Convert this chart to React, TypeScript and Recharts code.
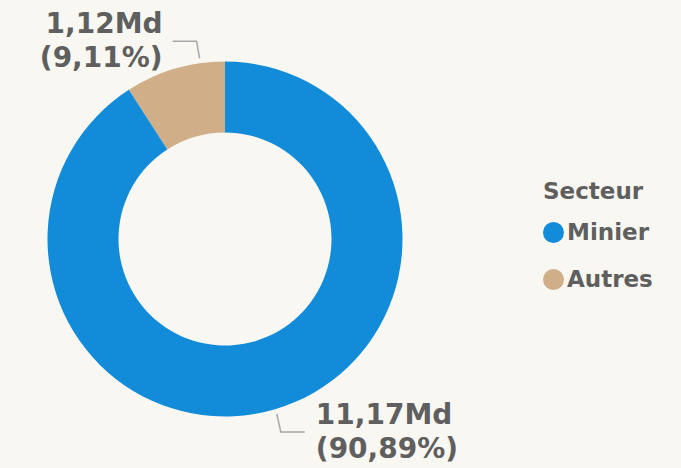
import { PieChart, Pie, Cell, Legend } from "recharts";

const BG = "#f8f7f2";
const TEXT = "#5f5f5f";
const LEADER = "#a8a8a8";
const FONT = "'DejaVu Sans', Verdana, sans-serif";

const sectors = ["Autres", "Minier"];
const values = [1.12, 11.17];
const colors = ["#d0ae88", "#128bd9"];
const legendOrder = [1, 0];

const data = sectors.map((name, i) => ({ name, value: values[i] }));
const total = values.reduce((a, b) => a + b, 0);

const fmt = (v: number) => v.toFixed(2).replace(".", ",");

// where each leader line leaves the ring (degrees, recharts convention)
const LEADER_ANGLE = [98, -73.5];

function SliceLabel(props: any) {
  const { cx, cy, outerRadius, index, value } = props;
  const a = (LEADER_ANGLE[index] * Math.PI) / 180;
  const r = outerRadius + 5;
  const x0 = cx + r * Math.cos(a);
  const y0 = cy - r * Math.sin(a);
  const top = index === 0;
  const lineY = top ? y0 - 17 : y0 + 18;
  const x1 = top ? x0 - 3 : x0 + 4;
  const x2 = top ? x1 - 24 : x1 + 24;
  const tx = top ? x2 - 10 : x2 + 11;
  const pct = ((value / total) * 100).toFixed(2).replace(".", ",");
  return (
    <g>
      <polyline
        points={`${x0},${y0} ${x1},${lineY} ${x2},${lineY}`}
        fill="none"
        stroke={LEADER}
        strokeWidth={1.5}
      />
      <text
        x={tx}
        y={lineY - 8}
        textAnchor={top ? "end" : "start"}
        fill={TEXT}
        style={{ fontFamily: FONT, fontSize: 28, fontWeight: 700 }}
      >
        <tspan x={tx}>{fmt(value)}Md</tspan>
        <tspan x={tx} dy={34}>({pct}%)</tspan>
      </text>
    </g>
  );
}

function LegendBox() {
  return (
    <div style={{ fontFamily: FONT, fontWeight: 700, color: TEXT, fontSize: 23, lineHeight: "23px" }}>
      <div style={{ marginBottom: 18 }}>Secteur</div>
      {legendOrder.map((i) => (
        <div key={i} style={{ display: "flex", alignItems: "center", marginBottom: 24 }}>
          <span
            style={{
              width: 21,
              height: 21,
              borderRadius: "50%",
              background: colors[i],
              display: "inline-block",
              marginRight: 3,
            }}
          />
          <span>{sectors[i]}</span>
        </div>
      ))}
    </div>
  );
}

export default function App() {
  return (
    <div style={{ width: 681, height: 468, background: BG, overflow: "hidden" }}>
      <style>{`body{margin:0;background:${BG};}`}</style>
      <PieChart width={681} height={468} margin={{ top: 0, right: 0, bottom: 0, left: 0 }}>
        <Pie
          data={data}
          dataKey="value"
          nameKey="name"
          cx={225}
          cy={239}
          innerRadius={106.5}
          outerRadius={177.5}
          startAngle={90}
          endAngle={450}
          stroke="none"
          labelLine={false}
          label={SliceLabel}
          isAnimationActive={false}
        >
          {data.map((d, i) => (
            <Cell key={d.name} fill={colors[i]} />
          ))}
        </Pie>
        <Legend
          content={<LegendBox />}
          wrapperStyle={{ left: 543, top: 180, width: 138 }}
        />
      </PieChart>
    </div>
  );
}
